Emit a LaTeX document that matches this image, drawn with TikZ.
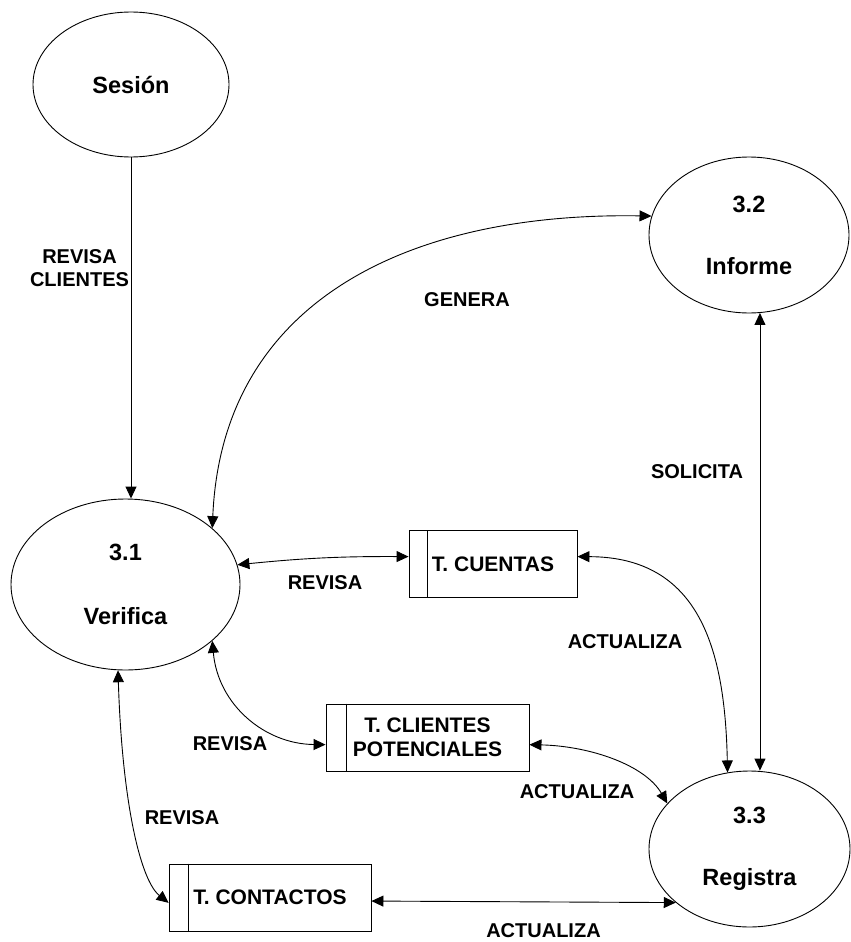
\documentclass[tikz,border=0pt]{standalone}
\usepackage{fontspec}
\setmainfont{Liberation Sans}
\usepackage{tikz}
\usetikzlibrary{shapes.geometric,arrows.meta,positioning}

\begin{document}
\begin{tikzpicture}[x=1pt,y=-1pt]
    %styles
    \tikzstyle{process}=[ellipse,draw,line width=0.9pt,inner sep=0pt,align=center,font=\bfseries\fontsize{23.5}{28}\selectfont]
    \tikzstyle{store}=[rectangle,draw,line width=0.9pt,inner sep=0pt,minimum height=67pt,align=center,font=\bfseries\fontsize{21}{25}\selectfont]
    \tikzstyle{flow}=[<->,>={Triangle[length=12pt,width=11pt]},line width=0.9pt]
    \tikzstyle{lbl}=[align=center,font=\bfseries\fontsize{20}{23}\selectfont]
    \useasboundingbox (0,0) rectangle (851,942);
    %nodes
    \node[process,minimum width=196pt,minimum height=145pt] (ses) at (131,84.5) {Sesi\'on};
    \node[process,minimum width=200pt,minimum height=156pt] (inf) at (749,235) {3.2\\[34pt]Informe};
    \node[process,minimum width=229pt,minimum height=171pt] (ver) at (125.5,584.5) {3.1\\[36pt]Verifica};
    \node[process,minimum width=201pt,minimum height=156pt] (reg) at (749.5,849) {3.3\\[34pt]Registra};

    \node[store,minimum width=168pt] (cue) at (493,564) {T. CUENTAS};
    \node[store,minimum width=203pt] (cli) at (427.5,737.5) {T. CLIENTES\\[-1pt]POTENCIALES};
    \node[store,minimum width=202pt] (con) at (270,897.5) {T. CONTACTOS};
    \draw[line width=0.9pt] ([xshift=19pt]cue.north west) -- ([xshift=19pt]cue.south west);
    \draw[line width=0.9pt] ([xshift=21pt]cli.north west) -- ([xshift=21pt]cli.south west);
    \draw[line width=0.9pt] ([xshift=20pt]con.north west) -- ([xshift=20pt]con.south west);

    \node[lbl] (t1) at (79.5,268.5) {REVISA\\CLIENTES};
    \node[lbl] (t2) at (467,300) {GENERA};
    \node[lbl] (t3) at (325,583) {REVISA};
    \node[lbl] (t4) at (697,472) {SOLICITA};
    \node[lbl] (t5) at (625,642) {ACTUALIZA};
    \node[lbl] (t6) at (230,744) {REVISA};
    \node[lbl] (t7) at (577,792) {ACTUALIZA};
    \node[lbl] (t8) at (182,818) {REVISA};
    \node[lbl] (t9) at (543.5,931) {ACTUALIZA};

    %arrows
    \draw[flow,<-] (ses.south |- ver.north) -- (ses.south);
    \draw[flow] (ver.33) .. controls (222,300) and (410,212) .. (inf.169);
    \draw[flow] (ver.10) to[bend left=3] (cue.175);
    \draw[flow] (inf.-82) -- (inf.-82 |- reg.north);
    \draw[flow] (cue.5) .. controls (700,557) and (725,650) .. (reg.106);
    \draw[flow] (ver.-33) .. controls (218,705) and (265,744) .. (cli.184);
    \draw[flow] (cli.-4) .. controls (590,746) and (645,765) .. (reg.151);
    \draw[flow] (ver.-95) .. controls (122,800) and (140,880) .. (con.183);
    \draw[flow] (con.-2) -- (reg.216);
\end{tikzpicture}
\end{document}
